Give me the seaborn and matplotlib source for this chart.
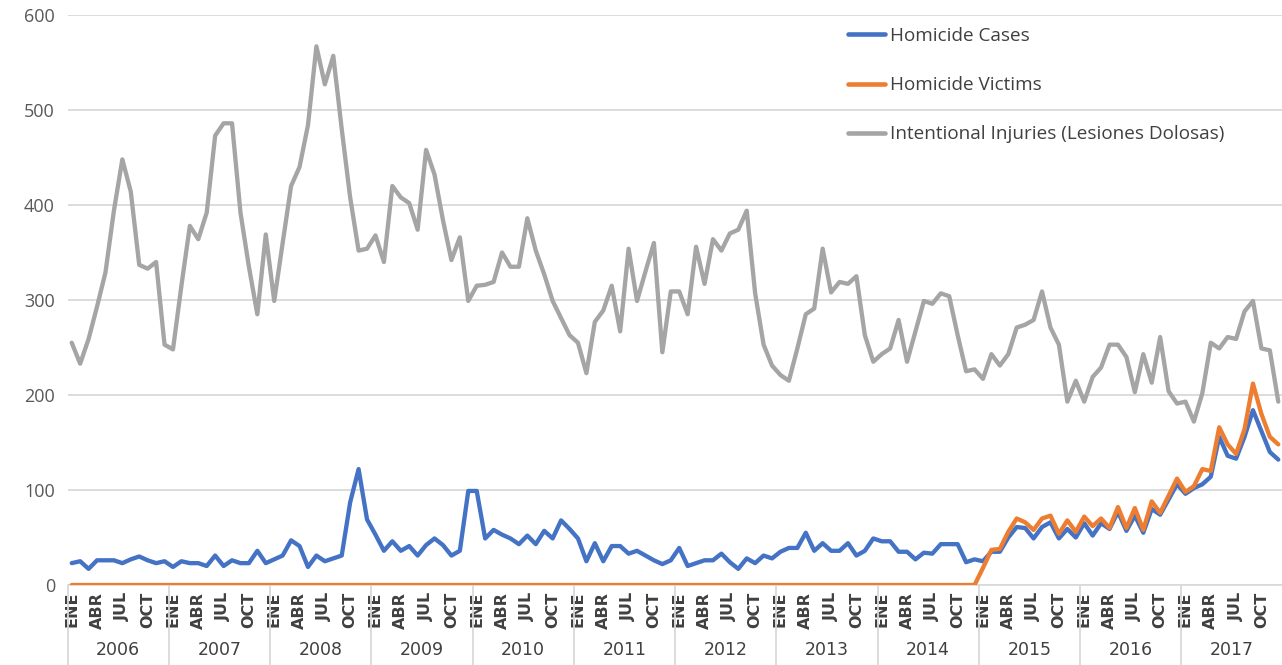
import numpy as np
import pandas as pd
import matplotlib
matplotlib.use("Agg")
import matplotlib.pyplot as plt
import matplotlib.transforms as mtransforms
from matplotlib.lines import Line2D
import seaborn as sns

years = list(range(2006, 2018))
month_labels = {0: "ENE", 3: "ABR", 6: "JUL", 9: "OCT"}

homicide_cases = [
    23, 25, 17, 26, 26, 26, 23, 27, 30, 26, 23, 25,
    19, 25, 23, 23, 20, 31, 20, 26, 23, 23, 36, 23,
    27, 31, 47, 41, 19, 31, 25, 28, 31, 87, 122, 69,
    53, 36, 46, 36, 41, 31, 42, 49, 42, 31, 36, 99,
    99, 49, 58, 53, 49, 43, 52, 43, 57, 49, 68, 59,
    49, 25, 44, 25, 41, 41, 33, 36, 31, 26, 22, 26,
    39, 20, 23, 26, 26, 33, 24, 17, 28, 23, 31, 28,
    35, 39, 39, 55, 36, 44, 36, 36, 44, 31, 36, 49,
    46, 46, 35, 35, 27, 34, 33, 43, 43, 43, 24, 27,
    25, 35, 35, 50, 61, 60, 49, 61, 66, 49, 59, 50,
    65, 52, 65, 59, 77, 57, 73, 55, 80, 74, 90, 106,
    96, 102, 106, 114, 156, 136, 133, 156, 184, 162, 140, 132,
]

homicide_victims = [0] * 108 + [
    18, 37, 38, 56, 70, 66, 58, 70, 73, 54, 68, 56,
    72, 62, 70, 60, 82, 60, 81, 58, 88, 76, 94, 112,
    98, 104, 122, 120, 166, 148, 138, 164, 212, 180, 156, 148,
]

intentional_injuries = [
    255, 233, 259, 293, 329, 394, 448, 414, 337, 333, 340, 253,
    248, 315, 378, 364, 392, 473, 486, 486, 392, 335, 285, 369,
    299, 360, 420, 440, 484, 567, 527, 557, 480, 408, 352, 354,
    368, 340, 420, 408, 402, 374, 458, 432, 384, 342, 366, 299,
    315, 316, 319, 350, 335, 335, 386, 352, 327, 299, 281, 263,
    255, 223, 277, 289, 315, 267, 354, 299, 330, 360, 245, 309,
    309, 285, 356, 317, 364, 352, 370, 374, 394, 307, 253, 231,
    221, 215, 249, 285, 291, 354, 308, 319, 317, 325, 263, 235,
    243, 249, 279, 235, 267, 299, 296, 307, 304, 263, 225, 227,
    217, 243, 231, 243, 271, 274, 279, 309, 271, 253, 193, 215,
    193, 219, 229, 253, 253, 240, 203, 243, 213, 261, 204, 191,
    193, 172, 202, 255, 249, 261, 259, 288, 299, 249, 247, 193,
]

series_names = ["Homicide Cases", "Homicide Victims", "Intentional Injuries (Lesiones Dolosas)"]
colors = ["#4472C4", "#ED7D31", "#A5A5A5"]

n = len(homicide_cases)
df = pd.concat([
    pd.DataFrame({"idx": np.arange(n), "value": vals, "series": name})
    for name, vals in zip(series_names, [homicide_cases, homicide_victims, intentional_injuries])
])

sns.set_theme(style="white")
plt.rcParams["font.family"] = ["Open Sans", "DejaVu Sans"]
narrow = ["Liberation Sans Narrow", "DejaVu Sans"]

fig = plt.figure(figsize=(12.82, 6.65), dpi=100)
ax = fig.add_axes([67.5 / 1282, 80 / 665, 1215 / 1282, 570 / 665])

# gray underneath, blue then orange on top
for name, c, z in zip(series_names, colors, [3, 4, 2]):
    sns.lineplot(data=df[df["series"] == name], x="idx", y="value", color=c,
                 lw=3.1, ax=ax, zorder=z, legend=False)

ax.set_xlim(-0.5, n - 0.5)
ax.set_ylim(0, 600)
ax.set_yticks(range(0, 601, 100))
ax.yaxis.grid(True, color="#d9d9d9", lw=1.3)
ax.set_axisbelow(True)
for s in ["top", "right", "left"]:
    ax.spines[s].set_visible(False)
ax.spines["bottom"].set_color("#d9d9d9")
ax.set_xlabel("")
ax.set_ylabel("")
ax.tick_params(axis="y", length=0, pad=9, labelsize=13, labelcolor="#595959")

ticks = [12 * k + m for k in range(len(years)) for m in month_labels]
ax.set_xticks(ticks)
ax.set_xticklabels([month_labels[t % 12] for t in ticks], rotation=90, va="top", ha="center",
                   fontsize=11.5, color="#404040", fontweight="bold", family=narrow)
ax.tick_params(axis="x", length=0, pad=5)

trans = mtransforms.blended_transform_factory(ax.transData, ax.transAxes)
for k in range(len(years) + 1):
    ax.plot([12 * k - 0.5] * 2, [0, -0.15], transform=trans, color="#d9d9d9",
            lw=1.3, clip_on=False)
for k, yr in enumerate(years):
    ax.text(12 * k + 5.5, -0.114, str(yr), transform=trans, ha="center", va="center",
            fontsize=12.5, color="#404040", family=narrow)

handles = [Line2D([0], [0], color=c, lw=3.3) for c in colors]
fig.legend(handles, series_names, loc="upper left", bbox_to_anchor=(848 / 1282, 1 - 27 / 665),
           frameon=False, fontsize=13.6, labelspacing=1.65, handlelength=1.95,
           handletextpad=0.3, borderpad=0, borderaxespad=0, labelcolor="#404040")

fig.savefig("out.png", dpi=100)
